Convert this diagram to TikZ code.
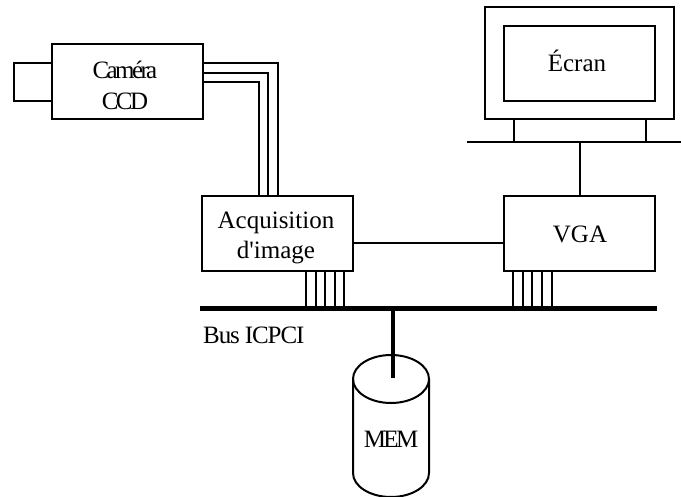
\documentclass[tikz,border=0pt]{standalone}
\usepackage{fontspec}
\setmainfont{Liberation Serif}
\newfontfamily\plainfont{Liberation Serif}
\newfontfamily\tightfont[LetterSpace=-10.5]{Liberation Serif}
\newfontfamily\bustight[LetterSpace=-4.5]{Liberation Serif}
\tikzset{
  box/.style={draw,line width=2pt,rectangle,outer sep=0pt,inner sep=0pt},
  lbl/.style={inner sep=0pt,align=center,font=\plainfont\fontsize{25}{30.5}\selectfont},
  tightlbl/.style={lbl,font=\tightfont\fontsize{25}{31}\selectfont},
  wire/.style={line width=2pt},
  busbar/.style={fill=black,draw=none,rectangle,inner sep=0pt,outer sep=0pt,minimum width=457pt,minimum height=5pt},
  cyl/.style={line width=2pt}
}
\begin{document}
\begin{tikzpicture}[x=1pt,y=-1pt]
\useasboundingbox (0,0) rectangle (681,497);
\clip (0,0) rectangle (681,497);
% camera
\node[box,minimum width=151pt,minimum height=75pt] (cam) at (127,81.7) {};
\node[tightlbl] (camtext) at (125,85) {Caméra\\CCD};
\node[box,minimum width=38pt,minimum height=38pt,anchor=east] (lens) at (51.5,82.5) {};
% acquisition
\node[box,minimum width=151.5pt,minimum height=75pt] (acq) at (277.7,233.2) {};
\node[lbl] (acqtext) at (276,238) {Acquisition\\d'image};
% VGA
\node[box,minimum width=151pt,minimum height=75pt] (vga) at (579.5,233.2) {};
\node[lbl] (vgatext) at (580,234) {VGA};
% screen
\node[box,minimum width=189pt,minimum height=112.5pt] (mon) at (579.5,63) {};
\node[box,minimum width=151pt,minimum height=75pt] (scr) at (579.5,63.2) {};
\node[lbl] (scrtext) at (577,60.5) {Écran};
% monitor base
\coordinate (baseL) at (467,142);
\coordinate (baseR) at (681,142);
\draw[wire] (baseL) -- (baseR);
\draw[wire] ([xshift=-65.2pt]mon.south) -- ([xshift=-65.2pt]mon.south |- baseL);
\draw[wire] ([xshift=66.2pt]mon.south) -- ([xshift=66.2pt]mon.south |- baseL);
\draw[wire] (vga.north) -- (vga.north |- baseL);
% acq to vga
\draw[wire] (acq.east |- 0,242.7) -- (vga.west |- 0,242.7);
% camera cable
\draw[wire] (cam.east |- 0,63.3) -| (acq.north -| 278,0);
\draw[wire] (cam.east |- 0,72.8) -| (acq.north -| 268.3,0);
\draw[wire] (cam.east |- 0,82.3) -| (acq.north -| 259,0);
% bus
\node[busbar] (bus) at (428.5,309) {};
\foreach \d in {28.6,38,47.4,56.8,66}{
  \draw[wire] ([xshift=\d pt]acq.south) -- ([xshift=\d pt]acq.south |- bus.north);
}
\foreach \d in {-66.2,-56.8,-47.4,-38,-28.0}{
  \draw[wire] ([xshift=\d pt]vga.south) -- ([xshift=\d pt]vga.south |- bus.north);
}
\node[anchor=base west,inner sep=0pt,font=\bustight\fontsize{25}{30}\selectfont] (buslabel) at (203,343.5) {Bus ICPCI};
% memory
\draw[cyl] (391,379) ellipse [x radius=38pt,y radius=24pt];
\draw[cyl] (353,379) -- (353,473) arc [start angle=180,end angle=360,x radius=38pt,y radius=24pt] -- (429,379);
\node[font=\tightfont\fontsize{25}{30}\selectfont,inner sep=0pt] (mem) at (391,439) {MEM};
\coordinate (memtop) at (393,378);
\draw[line width=4.5pt] (bus.south -| memtop) -- (memtop);
\end{tikzpicture}
\end{document}
